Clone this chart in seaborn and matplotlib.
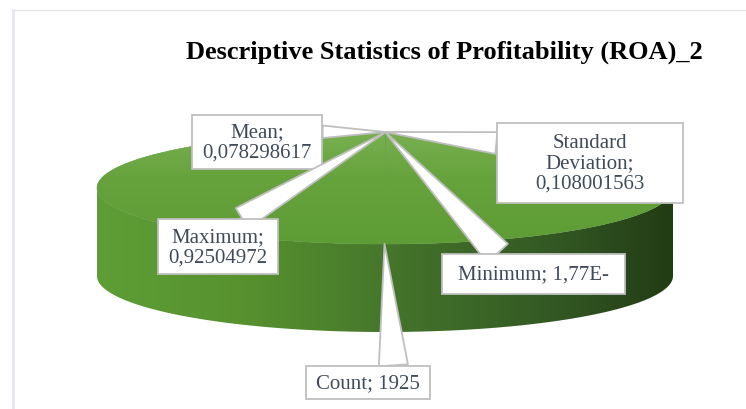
import numpy as np
import pandas as pd
import matplotlib
matplotlib.use("Agg")
import matplotlib.pyplot as plt
import seaborn as sns
from matplotlib.colors import LinearSegmentedColormap
from matplotlib.patches import Polygon
from matplotlib.path import Path
from matplotlib.lines import Line2D

# ---------------- data ----------------
categories = ["Mean", "Standard Deviation", "Minimum", "Maximum", "Count"]
values = [0.078298617, 0.108001563, 1.77e-05, 0.92504972, 1925]
label_names = ["Mean;", "Standard\nDeviation;", "Minimum;", "Maximum;", "Count;"]
value_labels = ["0,078298617", "0,108001563", "1,77E-", "0,92504972", "1925"]
title = "Descriptive Statistics of Profitability (ROA)_2"

# ---------------- style ----------------
sns.set_theme(style="white")
plt.rcParams["font.family"] = ["Liberation Serif", "DejaVu Serif"]

W, H = 746, 410
fig = plt.figure(figsize=(W / 100, H / 100), dpi=100)
fig.patch.set_facecolor("white")

# pie geometry (pixel layout of the tilted disk)
cx, cy, sx, sy, depth = 385, 189, 288, 56, 88
xl = (-1.04, 1.04)
yl = (-1 - depth / sy - 0.08, 1.06)
ax = fig.add_axes([(cx + xl[0] * sx) / W,
                   (H - (cy - yl[0] * sy)) / H,
                   (xl[1] - xl[0]) * sx / W,
                   (yl[1] - yl[0]) * sy / H])

df = pd.DataFrame({"stat": categories, "value": values})
pal = sns.color_palette(["#4f8a2c", "#5b9834", "#6aa63f", "#76b04b", "#66a33c"])

# side of the disk (front half) with horizontal gradient
side_cmap = LinearSegmentedColormap.from_list(
    "side", [(0.0, "#5e9e36"), (0.25, "#57922f"), (0.43, "#4b7f2c"),
             (0.56, "#41702a"), (0.8, "#335823"), (1.0, "#223c15")])
d = depth / sy
t = np.linspace(np.pi, 2 * np.pi, 300)
side_pts = np.vstack([np.c_[np.cos(t), np.sin(t)],
                      np.c_[np.cos(t[::-1]), np.sin(t[::-1]) - d]])
side_poly = Polygon(side_pts, closed=True, fc="none", ec="none")
ax.add_patch(side_poly)
im = ax.imshow(np.linspace(0, 1, 256)[None, :], cmap=side_cmap,
               extent=(-1, 1, -1 - d, 0), aspect="auto", zorder=0.5,
               interpolation="bilinear")
im.set_clip_path(side_poly)

# top face: pie
wedges, _ = ax.pie(df["value"], startangle=90, counterclock=False, radius=1,
                   center=(0, 0), colors=pal,
                   wedgeprops=dict(linewidth=0.4, edgecolor="#6f9f58"))
top_cmap = LinearSegmentedColormap.from_list(
    "top", [(0.0, "#5e9c35"), (0.6, "#67a33d"), (1.0, "#78b050")])
im2 = ax.imshow(np.linspace(0, 1, 256)[:, None], cmap=top_cmap, origin="lower",
                extent=(-1, 1, -1, 1), aspect="auto", zorder=1.5,
                interpolation="bilinear")
im2.set_clip_path(wedges[-1])

ax.set_aspect("auto")
ax.set_xlim(xl)
ax.set_ylim(yl)
ax.axis("off")


# fixed-size label box (Excel data-callout boxes have fixed size)
class FixedBox:
    def __init__(self, w, h):
        self.w, self.h = w, h

    def __call__(self, x0, y0, width, height, mutation_size):
        mx, my = x0 + width / 2, y0 + height / 2
        a, b = self.w / 2, self.h / 2
        verts = [(mx - a, my - b), (mx + a, my - b), (mx + a, my + b),
                 (mx - a, my + b), (mx - a, my - b)]
        return Path(verts, closed=True)


# ---------------- callout labels ----------------
layout = {
    "Mean": dict(pos=(257, 143), box=(130, 54), rel=(1.0, 0.76), tw=0.6, sep="\n"),
    "Standard Deviation": dict(pos=(590, 164), box=(186, 80), rel=(0.0, 0.77), tw=1.05, sep="\n"),
    "Minimum": dict(pos=(533.5, 275), box=(183, 40), rel=(0.33, 1.0), tw=1.35, sep=" "),
    "Maximum": dict(pos=(218, 247.5), box=(120, 55), rel=(0.6, 1.0), tw=1.15, sep="\n"),
    "Count": dict(pos=(368, 383.5), box=(124, 33), rel=(0.75, 1.0), tw=1.4, sep=" "),
}
edge = "#bfbfbf"
for w, cat, nm, vl in zip(wedges, categories, label_names, value_labels):
    L = layout[cat]
    th = np.deg2rad((w.theta1 + w.theta2) / 2)
    xy = (np.cos(th), np.sin(th))
    ax.annotate(nm + L["sep"] + vl, xy=xy, xycoords="data",
                xytext=(L["pos"][0] / W, 1 - L["pos"][1] / H),
                textcoords="figure fraction", ha="center", va="center",
                multialignment="center", fontsize=15, color="#404b5a",
                linespacing=1.1,
                bbox=dict(boxstyle=FixedBox(*L["box"]), fc="white", ec=edge, lw=1.3),
                arrowprops=dict(arrowstyle=f"wedge,tail_width={L['tw']}",
                                fc="white", ec=edge, lw=1.3, relpos=L["rel"],
                                shrinkA=0, shrinkB=0),
                zorder=5)

# ---------------- title & frame ----------------
fig.text(444 / W, 1 - 59 / H, title, ha="center", va="baseline",
         fontsize=19, fontweight="bold", color="black")
fig.add_artist(Line2D([12 / W, 1], [1 - 11 / H, 1 - 11 / H], color="#e2e4e8",
                      lw=1, transform=fig.transFigure))
fig.add_artist(Line2D([12.5 / W, 12.5 / W], [0, 1 - 11 / H], color="#e6e8ee",
                      lw=2, transform=fig.transFigure))

fig.savefig("out.png", dpi=100, facecolor="white")
